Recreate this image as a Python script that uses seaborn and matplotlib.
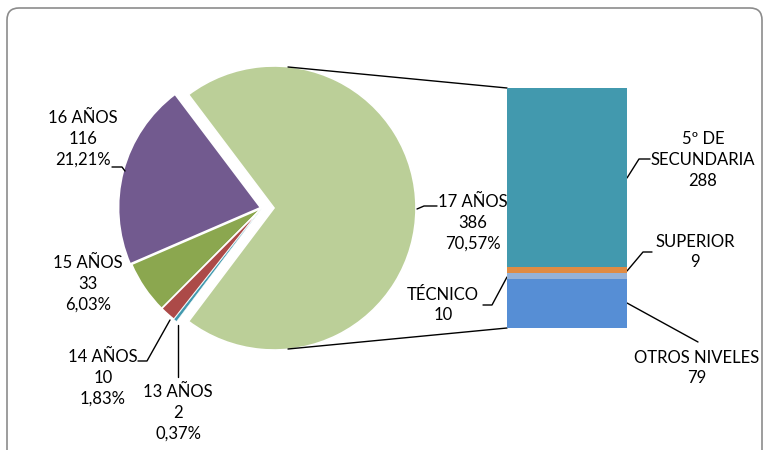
import numpy as np
import pandas as pd
import matplotlib
matplotlib.use("Agg")
import matplotlib.pyplot as plt
from matplotlib.patches import FancyBboxPatch
import seaborn as sns

# data: pie (edades) and bar breakdown of 17 AÑOS
edades = ["17 AÑOS", "16 AÑOS", "15 AÑOS", "14 AÑOS", "13 AÑOS"]
cantidad = [386, 116, 33, 10, 2]
porcentaje = ["70,57%", "21,21%", "6,03%", "1,83%", "0,37%"]
pie_colors = ["#BBCF98", "#725A8F", "#8BA74F", "#AC4A48", "#4299AE"]

niveles = ["OTROS NIVELES", "TÉCNICO", "SUPERIOR", "5º DE\nSECUNDARIA"]
cant_nivel = [79, 10, 9, 288]
bar_colors = ["#568ED5", "#95B2D8", "#E08B43", "#4299AE"]

titulo = "2016"

sns.set_theme(style="white")
plt.rcParams["font.family"] = ["Lato", "DejaVu Sans"]

W, H = 763, 450
fig = plt.figure(figsize=(W / 100, H / 100), dpi=100)
ax = fig.add_axes([0, 0, 1, 1])

def Y(y):
    return H - y

# frame
frame = FancyBboxPatch((7, Y(470)), 755, 462, boxstyle="round,pad=0,rounding_size=12",
                       facecolor="white", edgecolor="#8C8C8C", linewidth=1.2, zorder=0)
ax.add_patch(frame)

# pie (explode is in data units here, i.e. pixels)
start = -cantidad[0] / sum(cantidad) * 180
wedges, _ = ax.pie(cantidad, colors=pie_colors, startangle=start, counterclock=True,
                   center=(262, Y(208)), radius=142, explode=[12, 1.5, 0, 0, 0],
                   wedgeprops=dict(edgecolor="white", linewidth=1.2), frame=True)
# keep the tiny 13 AÑOS slice visible
wedges[-1].set_linewidth(0.3)
ax.set_xlim(0, W)
ax.set_ylim(0, H)
ax.set_aspect("equal")
ax.axis("off")

# bar of the 17 AÑOS slice (cumulative overlay)
bax = fig.add_axes([507 / W, (H - 328) / H, 120 / W, 240 / H])
cum = np.cumsum(cant_nivel)
for i in range(len(cum) - 1, -1, -1):
    sns.barplot(x=["a"], y=[cum[i]], color=bar_colors[i], width=1.0,
                saturation=1, ax=bax, linewidth=0)
bax.set_xlim(-0.5, 0.5)
bax.set_ylim(0, cum[-1])
bax.axis("off")

line_kw = dict(color="black", linewidth=1.0)
# connector lines
ax.plot([288, 507], [Y(67), Y(88)], **line_kw)
ax.plot([288, 507], [Y(349), Y(328)], **line_kw)

# leader lines
leaders = [
    [(112, 167), (122, 167), (125, 171)],
    [(138, 361), (147, 361), (170, 320)],
    [(178, 377), (178, 325)],
    [(417, 209), (424, 206), (437, 206)],
    [(483, 305), (492, 305), (507, 277)],
    [(627, 178), (639, 159), (650, 159)],
    [(627, 271), (643, 252), (652, 252)],
    [(627, 303), (698, 342)],
]
for pts in leaders:
    xs = [p[0] for p in pts]
    ys = [Y(p[1]) for p in pts]
    ax.plot(xs, ys, **line_kw)

txt_kw = dict(ha="center", va="center", fontsize=12, color="black", linespacing=1.35)
pie_pos = [(473, 223), (83, 139), (88, 284), (103, 378), (178, 413)]
for name, n, p, (x, y) in zip(edades, cantidad, porcentaje, pie_pos):
    ax.text(x, Y(y), f"{name}\n{n}\n{p}", **txt_kw)

bar_pos = [(697, 368), (443, 305), (695, 252), (703, 160)]
for name, n, (x, y) in zip(niveles, cant_nivel, bar_pos):
    ax.text(x, Y(y), f"{name}\n{n}", **txt_kw)

# title, cut off at the top edge as in the source image
fig.text(375 / W, 1.0 + 6 / H, titulo, ha="center", va="center", fontsize=12, fontweight="bold")

fig.savefig("out.png", dpi=100)
